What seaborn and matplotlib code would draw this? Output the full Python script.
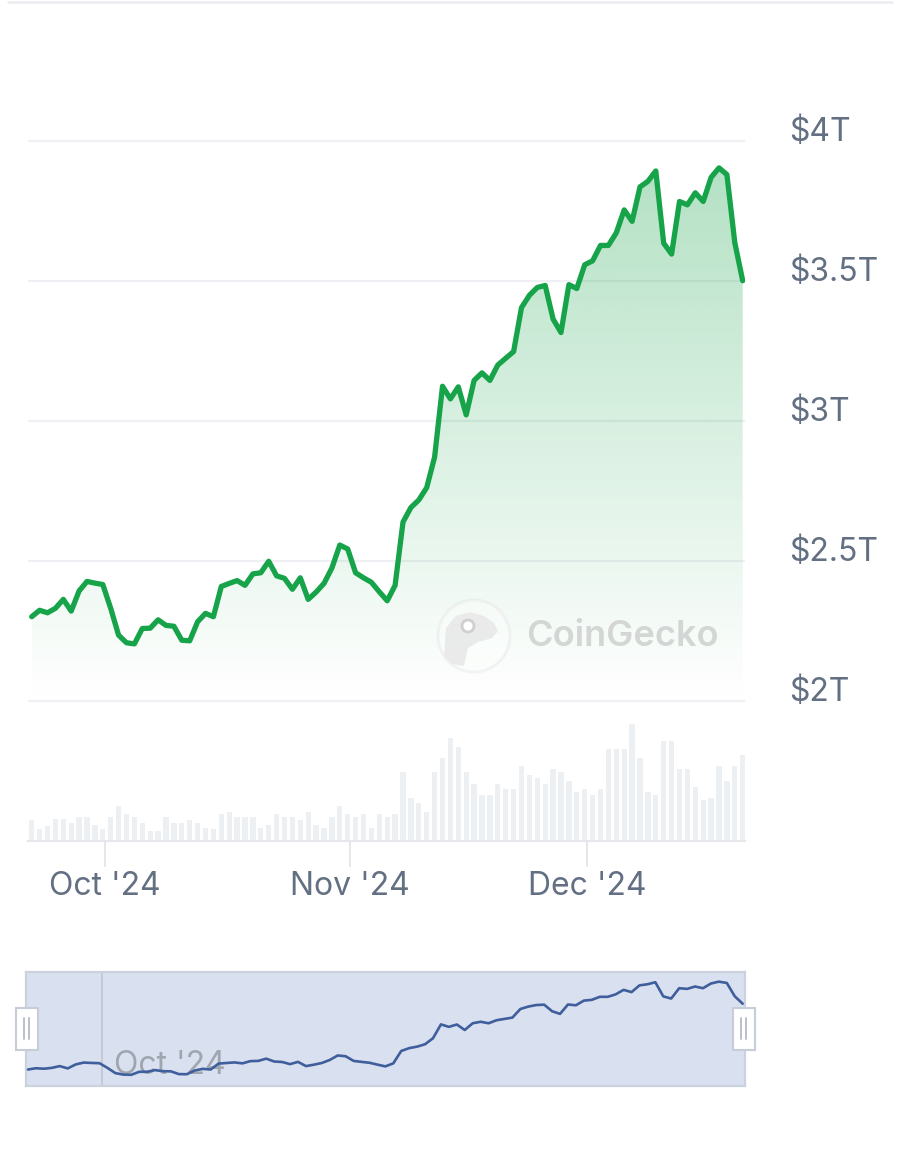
import numpy as np
import pandas as pd
import matplotlib
matplotlib.use("Agg")
import matplotlib.pyplot as plt
import matplotlib.dates as mdates
import seaborn as sns
from matplotlib.patches import Rectangle, Circle, Polygon
from matplotlib.lines import Line2D
from matplotlib.transforms import IdentityTransform

# ---------------- data ----------------
dates = pd.date_range("2024-09-21 17:00", periods=91, freq="D")

market_cap_t = [
    2.301, 2.324, 2.315, 2.331, 2.363, 2.321, 2.393, 2.427, 2.421, 2.416,
    2.331, 2.235, 2.208, 2.204, 2.259, 2.260, 2.290, 2.270, 2.267, 2.217,
    2.215, 2.283, 2.313, 2.301, 2.409, 2.420, 2.430, 2.413, 2.454, 2.458,
    2.499, 2.447, 2.438, 2.399, 2.440, 2.363, 2.389, 2.420, 2.475, 2.557,
    2.543, 2.458, 2.440, 2.424, 2.390, 2.358, 2.413, 2.639, 2.691, 2.718,
    2.762, 2.871, 3.124, 3.079, 3.122, 3.022, 3.145, 3.172, 3.145, 3.200,
    3.224, 3.248, 3.405, 3.449, 3.477, 3.484, 3.364, 3.316, 3.487, 3.473,
    3.558, 3.572, 3.627, 3.627, 3.672, 3.754, 3.713, 3.836, 3.856, 3.893,
    3.635, 3.596, 3.784, 3.772, 3.815, 3.784, 3.870, 3.904, 3.880, 3.637,
    3.501,
]

volume_b = [
    63, 37, 45, 65, 65, 55, 72, 72, 47, 37,
    72, 105, 80, 72, 55, 30, 30, 72, 55, 55,
    63, 55, 40, 37, 80, 88, 72, 72, 72, 38,
    47, 80, 72, 72, 63, 88, 47, 38, 72, 105,
    80, 72, 80, 38, 80, 72, 80, 207, 130, 113,
    88, 207, 248, 307, 282, 207, 172, 138, 138, 172,
    155, 155, 223, 197, 189, 172, 215, 205, 181, 147,
    155, 138, 155, 275, 275, 275, 350, 248, 147, 138,
    299, 299, 215, 215, 163, 122, 130, 223, 181, 223,
    257,
]

y_ticks = [2.0, 2.5, 3.0, 3.5, 4.0]
y_labels = ["$2T", "$2.5T", "$3T", "$3.5T", "$4T"]
month_ticks = pd.to_datetime(["2024-10-01", "2024-11-01", "2024-12-01"])
month_labels = ["Oct '24", "Nov '24", "Dec '24"]

df = pd.DataFrame({"date": dates, "cap": market_cap_t, "vol": volume_b})

# ---------------- style ----------------
sns.set_theme(style="white")
plt.rcParams["font.family"] = ["Inter", "DejaVu Sans"]

GREEN = "#16a34a"
LABEL = "#636f82"
GRID = "#eef0f3"
FS = 23

W, H = 902, 1163
fig = plt.figure(figsize=(W / 100, H / 100), dpi=100)
fig.patch.set_facecolor("white")


def ax_rect(l, t, r, b):
    return [l / W, 1 - b / H, (r - l) / W, (b - t) / H]


day_px = 7.9
d0 = mdates.date2num(dates[0])
d1 = mdates.date2num(dates[-1])
xlim_main = (d0 - 3.7 / day_px, d1 + 2.3 / day_px)

# ---------------- main price axes ----------------
ax = fig.add_axes(ax_rect(28, 130, 745, 705))
ax.set_facecolor("none")
ymin, ymax = 2 - 4 / 280, 2 + 571 / 280

poly = ax.fill_between(df["date"], df["cap"], 2.0, color="none", lw=0)
grad = np.zeros((256, 1, 4))
grad[..., 0] = 22 / 255
grad[..., 1] = 163 / 255
grad[..., 2] = 74 / 255
grad[:, 0, 3] = np.linspace(0.34, 0.0, 256)
im = ax.imshow(grad, extent=[d0, d1, 2.0, 4.0], aspect="auto", origin="upper", zorder=1)
im.set_clip_path(poly.get_paths()[0], transform=ax.transData)

sns.lineplot(data=df, x="date", y="cap", ax=ax, color=GREEN, linewidth=3.8,
             solid_joinstyle="round", solid_capstyle="round", zorder=4)

ax.set_xlim(*xlim_main)
ax.set_ylim(ymin, ymax)
ax.set_yticks(y_ticks)
ax.set_yticklabels(y_labels)
ax.yaxis.tick_right()
ax.tick_params(axis="y", length=0, pad=31.5, labelsize=FS, labelcolor=LABEL)
for lbl in ax.get_yticklabels():
    lbl.set_va("baseline")
ax.set_xticks([])
ax.grid(axis="y", color=GRID, lw=1.6, zorder=0)
ax.grid(axis="x", visible=False)
ax.set_axisbelow(True)
for s in ax.spines.values():
    s.set_visible(False)
ax.set_xlabel("")
ax.set_ylabel("")

# watermark
cx, cy = 474, H - 636
wm = Circle((cx, cy), 36, transform=IdentityTransform(), facecolor="white", alpha=0.35,
            edgecolor="#e2e2e2", lw=2.2, zorder=3)
fig.add_artist(wm)
head = Polygon([(cx - 30, cy - 20), (cx - 28, cy + 8), (cx - 18, cy + 20), (cx - 4, cy + 24),
                (cx + 10, cy + 20), (cx + 20, cy + 13), (cx + 24, cy + 5), (cx + 18, cy - 2),
                (cx + 4, cy - 6), (cx - 6, cy - 12), (cx - 10, cy - 30), (cx - 22, cy - 28)],
               closed=True, transform=IdentityTransform(), facecolor="#e6e6e6",
               edgecolor="none", alpha=0.8, zorder=3)
fig.add_artist(head)
fig.add_artist(Circle((cx - 6, cy + 10), 6, transform=IdentityTransform(),
                      facecolor="white", edgecolor="#d0d0d0", lw=2, zorder=3))
fig.text(526 / W, 1 - 636 / H, "CoinGecko", fontsize=26, fontweight="semibold",
         color="#d4d6d6", ha="left", va="center", zorder=3)

# ---------------- volume axes ----------------
axv = fig.add_axes(ax_rect(28, 711, 745, 841))
axv.set_facecolor("none")
axv.bar(df["date"], df["vol"], width=0.68, color="#edf0f3", linewidth=0, zorder=2)
axv.set_xlim(*xlim_main)
axv.set_ylim(0, 389)
axv.set_yticks([])
axv.set_xticks(month_ticks)
axv.set_xticklabels(month_labels)
axv.tick_params(axis="x", length=18.7, width=1.4, color="#e5e7eb", pad=3,
                labelsize=FS, labelcolor=LABEL, bottom=True)
for k, s in axv.spines.items():
    s.set_visible(k == "bottom")
axv.spines["bottom"].set_color("#e6e8eb")
axv.spines["bottom"].set_linewidth(1.6)
axv.grid(False)

# ---------------- navigator ----------------
axn = fig.add_axes(ax_rect(26, 972, 745, 1086))
axn.set_facecolor("#d9e0f0")
axn.axvline(mdates.date2num(month_ticks[0]), color="#c4cad5", lw=1.4, zorder=1)
sns.lineplot(data=df, x="date", y="cap", ax=axn, color="#3f5e9c", linewidth=1.9, zorder=3)
axn.set_xlim(d0 - 2.0 / day_px, d1 + 2.3 / day_px)
axn.set_ylim(2.0, 4.08)
axn.set_xticks([])
axn.set_yticks([])
axn.set_xlabel("")
axn.set_ylabel("")
for s in axn.spines.values():
    s.set_color("#cbd2de")
    s.set_linewidth(1.6)
axn.annotate(month_labels[0], xy=(mdates.date2num(month_ticks[0]), 0),
             xycoords=("data", "axes fraction"), xytext=(8.5, 8.5),
             textcoords="offset points", fontsize=FS, color="#9aa0a8", alpha=0.9,
             ha="left", va="baseline", zorder=2)


# handles
def handle(xl):
    fig.add_artist(Rectangle((xl, H - 1050), 22, 42, transform=IdentityTransform(),
                             facecolor="white", edgecolor="#c7cdd8", lw=1.5, zorder=6))
    for dx in (7.5, 13):
        fig.add_artist(Line2D([xl + dx, xl + dx], [H - 1039, H - 1018],
                              transform=IdentityTransform(), color="#b9c0cb", lw=1.4, zorder=7))


handle(16)
handle(733)

# top separator line
fig.add_artist(Line2D([8, 892], [H - 1.5, H - 1.5], transform=IdentityTransform(),
                      color="#eceef1", lw=2))

fig.savefig("out.png", dpi=100, facecolor="white")
